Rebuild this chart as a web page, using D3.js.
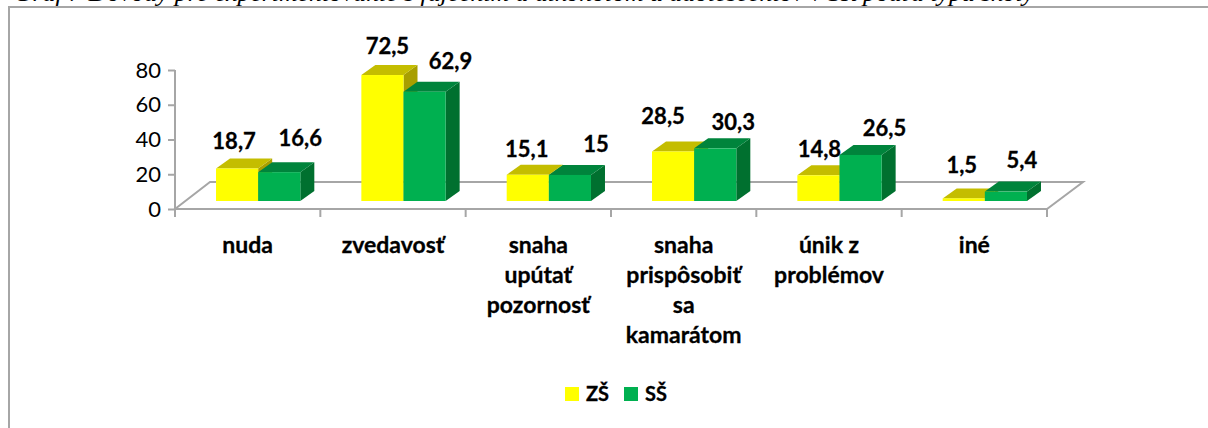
<!DOCTYPE html>
<html lang="sk">
<head>
  <meta charset="UTF-8">
  <title>Graf</title>
  <style>
      body{
          margin:0;
          background:#fff;
      }
      svg{
          display:block;
      }
      text{
          font-family:Lato, sans-serif;
          fill:#000;
      }
      .caption{
          font-family:"Liberation Serif", serif;
          font-style:italic;
          font-size:24px;
      }
      .axis text{
          font-family:Lato, sans-serif;
          font-size:22px;
      }
      .axis .domain{
          display:none;
      }
      .val, .cat, .key{
          font-weight:bold;
          stroke:#000;
          stroke-width:0.3px;
      }
      .val{
          font-size:22px;
          text-anchor:middle;
      }
      .cat{
          font-size:23px;
          text-anchor:middle;
      }
      .key{
          font-size:20px;
      }
  </style>
</head>
<body>
    <svg width="1208" height="428"></svg>
    <script src="https://d3js.org/d3.v7.min.js"></script>
    <script>

        var categories = ["nuda", "zvedavosť", "snaha upútať pozornosť", "snaha prispôsobiť sa kamarátom", "únik z problémov", "iné"];
        var categoryLines = [["nuda"], ["zvedavosť"], ["snaha", "upútať", "pozornosť"], ["snaha", "prispôsobiť", "sa", "kamarátom"], ["únik z", "problémov"], ["iné"]];
        var seriesNames = ["ZŠ", "SŠ"];
        var zs = [18.7, 72.5, 15.1, 28.5, 14.8, 1.5];
        var ss = [16.6, 62.9, 15, 30.3, 26.5, 5.4];
        var yTicks = [0, 20, 40, 60, 80];

        var svg = d3.select("svg");
        var grey = "#a6a6a6";

        // floor of the 3D box: how far the back edge sits from the front edge
        var floorDx = 35, floorDy = 27;
        // bars stand in the middle of the floor, with this depth
        var barLift = 8, depthX = 14, depthY = 10;

        var colors = [
            {front: "#ffff00", top: "#c4bd00", side: "#a89f00"},
            {front: "#00b050", top: "#00843c", side: "#00702f"}
        ];

        // hand moved data labels, [dx, dy] from the top middle of the bar's front
        var nudgeZs = [[-3, -20], [5, -21], [-1, -18], [-10, -27], [1, -18], [-2, -25]];
        var nudgeSs = [[21, -26], [26, -23], [26, -23], [18, -18], [24, -19], [16, -24]];

        var y = d3.scaleLinear().domain([0, 80]).range([209, 70]);

        // band edges give the tick marks and label centres
        var xAxis = d3.scaleBand().domain(categories).range([175, 1047]);

        // The scale spacing the groups, moved a bit to the back of the floor:
        var x0 = d3.scaleBand()
            .domain(categories)
            .range([175 + 10.5, 1047 + 10.5])
            .paddingInner(0.42)
            .paddingOuter(0.21);

        // The scale for spacing each group's bar:
        var x1 = d3.scaleBand()
            .domain(seriesNames)
            .range([0, x0.bandwidth()]);

        // frame of the chart
        svg.append("path")
            .attr("d", "M9,428V7H1208")
            .attr("fill", "none")
            .attr("stroke", grey)
            .attr("stroke-width", 2);

        // line of the caption above, cut off by the top of the picture
        svg.append("text")
            .attr("class", "caption")
            .attr("x", 14)
            .attr("y", 1)
            .attr("textLength", 1020)
            .attr("lengthAdjust", "spacingAndGlyphs")
            .text("Graf 7 Dôvody pre experimentovanie s fajčením a alkoholom u adolescentov v SR podľa typu školy");

        // floor
        var x0Edge = xAxis.range()[0], x1Edge = xAxis.range()[1];
        svg.append("path")
            .attr("d", d3.line()([
                [x0Edge, y(0)],
                [x0Edge + floorDx, y(0) - floorDy],
                [x1Edge + floorDx + 1, y(0) - floorDy],
                [x1Edge, y(0)]
            ]) + "Z")
            .attr("fill", "#fff")
            .attr("stroke", grey)
            .attr("stroke-width", 2);

        // axes
        var gy = svg.append("g")
            .attr("class", "axis")
            .attr("transform", "translate(" + x0Edge + ",0)")
            .call(d3.axisLeft(y).tickValues(yTicks).tickSize(7).tickPadding(7));
        gy.selectAll("line").attr("stroke", grey).attr("stroke-width", 2);

        svg.append("line")
            .attr("x1", x0Edge).attr("x2", x0Edge)
            .attr("y1", y(80)).attr("y2", y(0))
            .attr("stroke", grey)
            .attr("stroke-width", 2);

        var edges = categories.map(function(c) { return xAxis(c); }).concat([x1Edge]);
        svg.append("g")
            .selectAll("line")
            .data(edges)
            .enter().append("line")
            .attr("x1", function(d) { return d; })
            .attr("x2", function(d) { return d; })
            .attr("y1", y(0))
            .attr("y2", y(0) + 8)
            .attr("stroke", grey)
            .attr("stroke-width", 2);

        // bars
        function drawBars(values, name, c) {
            var bar = svg.append("g")
                .selectAll("g")
                .data(values)
                .enter().append("g")
                .attr("transform", function(d, i) { return "translate(" + (x0(categories[i]) + x1(name)) + ",0)"; });

            var w = x1.bandwidth();
            var base = y(0) - barLift;

            bar.append("polygon")
                .attr("fill", c.side)
                .attr("points", function(d) {
                    var t = y(d) - barLift;
                    return [[w, t], [w + depthX, t - depthY], [w + depthX, base - depthY], [w, base]].join(" ");
                });
            bar.append("polygon")
                .attr("fill", c.top)
                .attr("points", function(d) {
                    var t = y(d) - barLift;
                    return [[0, t], [depthX, t - depthY], [w + depthX, t - depthY], [w, t]].join(" ");
                });
            bar.append("rect")
                .attr("fill", c.front)
                .attr("x", 0)
                .attr("width", w)
                .attr("y", function(d) { return y(d) - barLift; })
                .attr("height", function(d) { return base - (y(d) - barLift); });
        }

        // a group at a time so the green of one group covers the yellow side
        drawBars(zs, "ZŠ", colors[0]);
        drawBars(ss, "SŠ", colors[1]);

        // data labels
        function drawValues(values, name, nudge) {
            svg.append("g")
                .selectAll("text")
                .data(values)
                .enter().append("text")
                .attr("class", "val")
                .attr("x", function(d, i) { return x0(categories[i]) + x1(name) + x1.bandwidth() / 2 + nudge[i][0]; })
                .attr("y", function(d, i) { return y(d) - barLift + nudge[i][1]; })
                .text(function(d) { return String(d).replace(".", ","); });
        }
        drawValues(zs, "ZŠ", nudgeZs);
        drawValues(ss, "SŠ", nudgeSs);

        // category labels
        svg.append("g")
            .selectAll("text")
            .data(categories)
            .enter().append("text")
            .attr("class", "cat")
            .attr("transform", function(d) { return "translate(" + (xAxis(d) + xAxis.bandwidth() / 2) + ",253)"; })
            .selectAll("tspan")
            .data(function(d, i) { return categoryLines[i]; })
            .enter().append("tspan")
            .attr("x", 0)
            .attr("y", function(d, i) { return i * 30; })
            .text(function(d) { return d; });

        // legend
        var legendX = d3.scaleOrdinal().domain(seriesNames).range([565, 624]);
        var legend = svg.append("g")
            .selectAll("g")
            .data(seriesNames)
            .enter().append("g")
            .attr("transform", function(d) { return "translate(" + legendX(d) + ",387)"; });
        legend.append("rect")
            .attr("width", 14)
            .attr("height", 14)
            .attr("fill", function(d, i) { return colors[i].front; });
        legend.append("text")
            .attr("class", "key")
            .attr("x", 21)
            .attr("y", 14)
            .text(function(d) { return d; });

    </script>
</body>
</html>
